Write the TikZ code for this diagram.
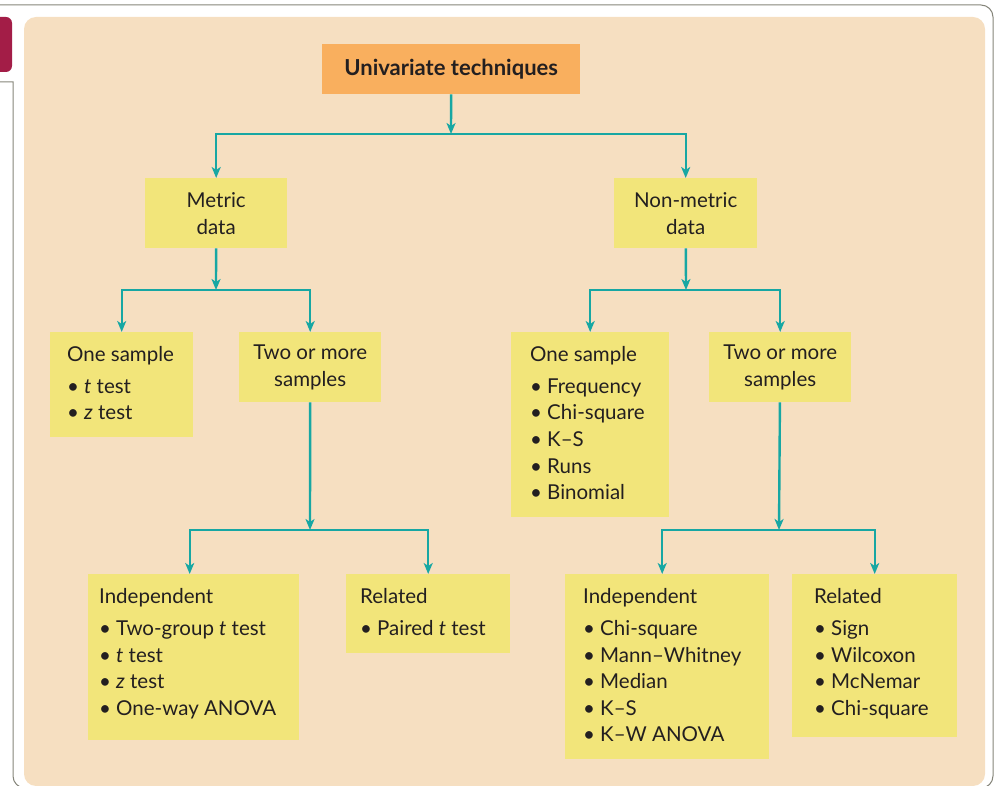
\documentclass[tikz,border=0pt]{standalone}
\usepackage{fontspec}
\setmainfont{Lato}
\usetikzlibrary{arrows.meta}
\definecolor{beige}{HTML}{F6DFC1}
\definecolor{ybox}{HTML}{F2E57A}
\definecolor{obox}{HTML}{F9AF5E}
\definecolor{teal2}{HTML}{17A7A3}
\definecolor{crim}{HTML}{A31D47}
\definecolor{ink}{HTML}{231F20}
\definecolor{frame}{HTML}{85857A}
\newcommand\bul{\makebox[17pt][l]{\textbullet}}
\begin{document}
\begin{tikzpicture}[x=1pt,y=-1pt,
  ybx/.style={fill=ybox, inner sep=0, anchor=north west},
  txt/.style={inner sep=0, anchor=north west, align=left, text=ink, font=\fontsize{20.5}{26.6}\selectfont},
  ctxt/.style={inner sep=0, align=center, text=ink, font=\fontsize{20.5}{27}\selectfont},
  con/.style={draw=teal2, line width=2.4pt, -{Stealth[length=11pt,width=9pt,inset=3pt]}}]
\useasboundingbox (0,0) rectangle (997,786);
% frame
\draw[frame, line width=1pt] (0,5) [rounded corners=12pt] -- (993,5) -- (993,788) -- (13,788) -- (13,400) [sharp corners] -- (13,82) -- (0,82);
\fill[crim, rounded corners=6pt] (-10,17) rectangle (12,72);
\fill[beige, rounded corners=12pt] (24,17) rectangle (985,786);
% boxes
\node[fill=obox, inner sep=0, anchor=north west, minimum width=258pt, minimum height=50pt, text=ink,
  font=\fontsize{22}{24}\selectfont\bfseries] (top) at (322,44) {Univariate techniques};
\node[ybx, minimum width=142pt, minimum height=70pt] (metric) at (145,178) {};
\node[ctxt] (metrict) at (metric.center) {Metric\\data};
\node[ybx, minimum width=143pt, minimum height=70pt] (nonmetric) at (614,178) {};
\node[ctxt] (nonmetrict) at (nonmetric.center) {Non-metric\\data};
\node[ybx, minimum width=143pt, minimum height=105pt] (oneL) at (50,332) {};
\node[txt] (oneLt) at (67,346) {One sample\\[5.5pt]\bul\textit{t} test\\\bul\textit{z} test};
\node[ybx, minimum width=142pt, minimum height=70pt] (twoL) at (239,332) {};
\node[ctxt] (twoLt) at (twoL.center) {Two or more\\samples};
\node[ybx, minimum width=158pt, minimum height=185pt] (oneR) at (511,332) {};
\node[txt] (oneRt) at (530,346) {One sample\\[5.5pt]\bul Frequency\\\bul Chi-square\\\bul K--S\\\bul Runs\\\bul Binomial};
\node[ybx, minimum width=142pt, minimum height=70pt] (twoR) at (709,332) {};
\node[ctxt] (twoRt) at (twoR.center) {Two or more\\samples};
\node[ybx, minimum width=211pt, minimum height=166pt] (indL) at (88,574) {};
\node[txt] (indLt) at (99,588) {Independent\\[5.5pt]\bul Two-group \textit{t} test\\\bul\textit{t} test\\\bul\textit{z} test\\\bul One-way ANOVA};
\node[ybx, minimum width=164pt, minimum height=79pt] (relL) at (346,574) {};
\node[txt] (relLt) at (360,588) {Related\\[5.5pt]\bul Paired \textit{t} test};
\node[ybx, minimum width=204pt, minimum height=185pt] (indR) at (565,574) {};
\node[txt] (indRt) at (583,588) {Independent\\[5.5pt]\bul Chi-square\\\bul Mann--Whitney\\\bul Median\\\bul K--S\\\bul K--W ANOVA};
\node[ybx, minimum width=165pt, minimum height=163pt] (relR) at (792,574) {};
\node[txt] (relRt) at (814,588) {Related\\[5.5pt]\bul Sign\\\bul Wilcoxon\\\bul McNemar\\\bul Chi-square};
% junctions
\coordinate (j0) at (451,134);
\coordinate (j1) at (216,290);
\coordinate (j2) at (686,290);
\coordinate (j3) at (310,530);
\coordinate (j4) at (779,530);
% connectors
\draw[con] (top) -- (j0);
\draw[con] (j0) -| (metric);
\draw[con] (j0) -| (nonmetric);
\draw[con] (metric) -- (j1);
\draw[con] (j1) -| (oneL);
\draw[con] (j1) -| (twoL);
\draw[con] (nonmetric) -- (j2);
\draw[con] (j2) -| (oneR);
\draw[con] (j2) -| (twoR);
\draw[con] (twoL) -- (j3);
\draw[con] (j3) -| ([xshift=-4pt]indL.north);
\draw[con] (j3) -| (relL);
\draw[con] (twoR) -- (j4);
\draw[con] (j4) -| ([xshift=-5pt]indR.north);
\draw[con] (j4) -| (relR);
\end{tikzpicture}
\end{document}
